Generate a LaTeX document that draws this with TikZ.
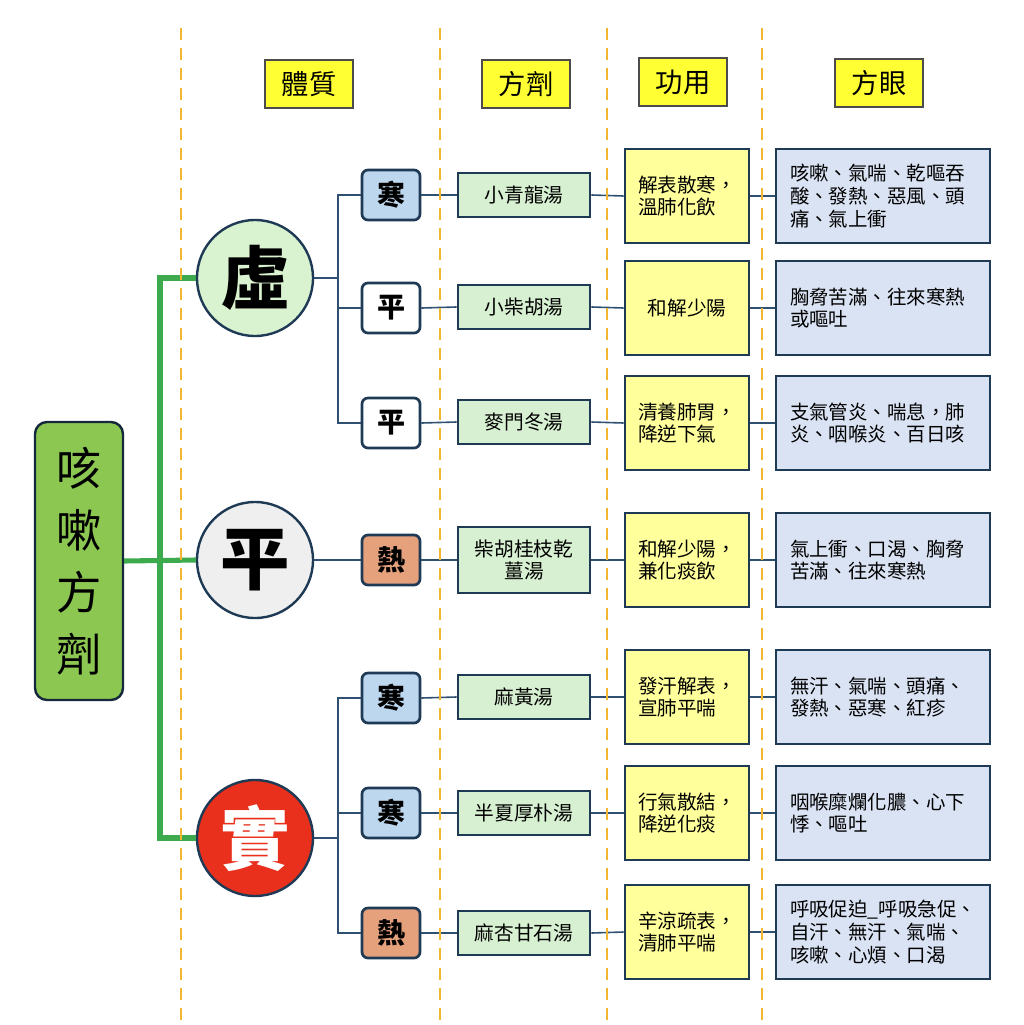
\documentclass[tikz,border=0pt]{standalone}
\usepackage{fontspec}
\setmainfont{Noto Sans CJK TC}
\definecolor{gold}{HTML}{F2B630}
\definecolor{lnkc}{HTML}{2F5070}
\definecolor{bord}{HTML}{1F3A55}
\definecolor{grn}{HTML}{3DAA4E}
\definecolor{rootf}{HTML}{8CC751}
\definecolor{hdrf}{HTML}{FFFF33}
\definecolor{funcf}{HTML}{FFFF9C}
\definecolor{eyef}{HTML}{DAE3F3}
\definecolor{formf}{HTML}{D8F0D2}
\definecolor{coldf}{HTML}{BDD7EE}
\definecolor{hotf}{HTML}{E5A07C}
\definecolor{xuf}{HTML}{D9F2D0}
\definecolor{pingf}{HTML}{EFEFEF}
\definecolor{shif}{HTML}{E8301C}
\begin{document}
\begin{tikzpicture}[x=0.75pt,y=-0.75pt,
  hdr/.style={draw=black!70, line width=0.9pt, fill=hdrf, minimum width=66pt, minimum height=36pt, inner sep=0pt, font=\fontsize{20.5pt}{22pt}\selectfont},
  rootbox/.style={draw=bord!70!black, line width=1.8pt, fill=rootf, rounded corners=9pt, minimum width=66pt, minimum height=208.5pt, inner sep=0pt, align=center, font=\fontsize{34pt}{46.5pt}\selectfont},
  big/.style={circle, draw=bord, line width=1.8pt, minimum size=87pt, inner sep=0pt, font=\bfseries\fontsize{52pt}{52pt}\selectfont},
  tag/.style={draw=bord, line width=2pt, rounded corners=4.5pt, minimum width=43.5pt, minimum height=37.5pt, inner sep=0pt, font=\bfseries\fontsize{21pt}{21pt}\selectfont},
  form/.style={draw=bord, line width=2pt, fill=formf, minimum width=99pt, minimum height=33pt, inner sep=0pt, align=center, font=\fontsize{14.8pt}{17pt}\selectfont},
  func/.style={draw=bord, line width=2pt, fill=funcf, minimum width=93pt, minimum height=70.5pt, inner sep=0pt, align=left, font=\fontsize{14.7pt}{17pt}\selectfont},
  eye/.style={draw=bord, line width=2pt, fill=eyef, minimum height=70.5pt, text width=139.5pt, inner xsep=10.5pt, inner ysep=0pt, align=left, font=\fontsize{14.6pt}{17pt}\selectfont},
  lnk/.style={draw=lnkc, line width=1.8pt},
  thin/.style={draw=lnkc, line width=1.2pt},
  gl/.style={draw=grn, line width=3.8pt},
  guide/.style={draw=gold, line width=2pt, dash pattern=on 9pt off 6pt}
]
\useasboundingbox (0,0) rectangle (1024,1025);
\fill[white] (0,0) rectangle (1024,1025);

% headers
\node[hdr] (h1) at (309,84) {體質};
\node[hdr] (h2) at (526,84) {方劑};
\node[hdr] (h3) at (683,82) {功用};
\node[hdr] (h4) at (879,83) {方眼};

% root
\node[rootbox] (root) at (79,561) {咳\\嗽\\方\\劑};

% circles
\node[big, fill=xuf] (xu) at (255,278) {虛};
\node[big, fill=pingf] (ping) at (255,560) {平};
\node[big, fill=shif, text=white] (shi) at (255,838) {實};

% tags
\node[tag, fill=coldf] (t1) at (391,195) {寒};
\node[tag, fill=white] (t2) at (391,308) {平};
\node[tag, fill=white] (t3) at (391,423) {平};
\node[tag, fill=hotf] (t4) at (391,560) {熱};
\node[tag, fill=coldf] (t5) at (391,698) {寒};
\node[tag, fill=coldf] (t6) at (391,813) {寒};
\node[tag, fill=hotf] (t7) at (391,933) {熱};

% formulas
\node[form] (f1) at (524,195) {小青龍湯};
\node[form] (f2) at (524,307) {小柴胡湯};
\node[form] (f3) at (524,422) {麥門冬湯};
\node[form, minimum height=49.5pt] (f4) at (524,560) {柴胡桂枝乾\\薑湯};
\node[form] (f5) at (524,697) {麻黃湯};
\node[form] (f6) at (524,813) {半夏厚朴湯};
\node[form] (f7) at (524,933) {麻杏甘石湯};

% functions
\node[func] (u1) at (687,196) {解表散寒，\\溫肺化飲};
\node[func] (u2) at (687,308) {和解少陽};
\node[func] (u3) at (687,423) {清養肺胃，\\降逆下氣};
\node[func] (u4) at (687,560) {和解少陽，\\兼化痰飲};
\node[func] (u5) at (687,697) {發汗解表，\\宣肺平喘};
\node[func] (u6) at (687,813) {行氣散結，\\降逆化痰};
\node[func] (u7) at (687,932) {辛涼疏表，\\清肺平喘};

% eyes
\node[eye] (e1) at (883,196) {咳嗽、氣喘、乾嘔吞\\酸、發熱、惡風、頭\\痛、氣上衝};
\node[eye] (e2) at (883,308) {胸脅苦滿、往來寒熱\\或嘔吐};
\node[eye] (e3) at (883,423) {支氣管炎、喘息，肺\\炎、咽喉炎、百日咳};
\node[eye] (e4) at (883,560) {氣上衝、口渴、胸脅\\苦滿、往來寒熱};
\node[eye] (e5) at (883,697) {無汗、氣喘、頭痛、\\發熱、惡寒、紅疹};
\node[eye] (e6) at (883,813) {咽喉糜爛化膿、心下\\悸、嘔吐};
\node[eye] (e7) at (883,932) {呼吸促迫\_呼吸急促、\\自汗、無汗、氣喘、\\咳嗽、心煩、口渴};

% green trunk
\coordinate (gj) at (160,561);
\draw[gl] (root.east) -- (ping.west);
\draw[gl] (xu.west) -| (gj);
\draw[gl] (shi.west) -| (gj);

% branch junctions
\coordinate (jx) at (338,278);
\coordinate (js) at (338,838);
\draw[lnk] (xu.east) -- (jx);
\draw[lnk] (t1.west) -| (jx);
\draw[lnk] (t3.west) -| (jx);
\draw[lnk] (t2.west) -- (t2.west -| jx);
\draw[lnk] (ping.east) -- (t4.west);
\draw[lnk] (shi.east) -- (js);
\draw[lnk] (t5.west) -| (js);
\draw[lnk] (t7.west) -| (js);
\draw[lnk] (t6.west) -- (t6.west -| js);

% row links
\foreach \i in {1,...,7}{
  \draw[thin] (t\i.east) -- (f\i.west);
  \draw[thin] (f\i.east) -- (u\i.west);
  \draw[thin] (u\i.east) -- (e\i.west);
}

% guides
\foreach \gx in {181,440,607,762}{
  \draw[guide] (\gx,28) -- (\gx,1025);
}
\end{tikzpicture}
\end{document}
